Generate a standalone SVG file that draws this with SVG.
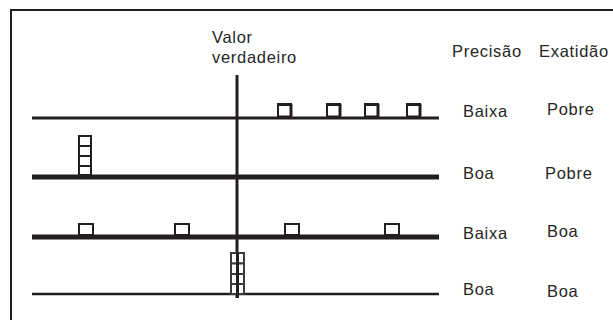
<svg xmlns="http://www.w3.org/2000/svg" width="613" height="320" viewBox="0 0 613 320">
<style>
.t{font-family:"Liberation Sans",Arial,sans-serif;font-size:16.5px;fill:#262626;letter-spacing:0.7px}
.ln{stroke:#231f20;fill:none}
.sq{fill:#fff;stroke:#231f20;stroke-width:2}
.sqt{fill:#fff;stroke:#231f20;stroke-width:2;stroke-dasharray:none}
.sqg{fill:#fff;stroke:#3a3a3a;stroke-width:2}
</style>
<defs>
<g id="box1">
<rect class="sq" x="0" y="0" width="13" height="12.5"/>
<line class="ln" x1="-1" y1="0.5" x2="14" y2="0.5" stroke-width="3"/>
<line class="ln" x1="13" y1="0" x2="13" y2="12.5" stroke-width="3"/>
</g>
</defs>
<rect width="613" height="320" fill="#fff"/>
<g id="frame">
<line class="ln" x1="10" y1="10" x2="613" y2="10" stroke-width="2"/>
<line class="ln" x1="11" y1="10" x2="11" y2="320" stroke-width="2"/>
</g>
<g id="axes">
<line class="ln" x1="32" y1="118" x2="439" y2="118" stroke-width="3"/>
<line class="ln" x1="32" y1="177" x2="439" y2="177" stroke-width="5"/>
<line class="ln" x1="32" y1="237" x2="439" y2="237" stroke-width="5"/>
<line class="ln" x1="32" y1="294" x2="439" y2="294" stroke-width="2.5"/>
<line class="ln" x1="237" y1="75" x2="237" y2="298" stroke-width="3"/>
</g>
<g id="row1">
<use href="#box1" x="278" y="104"/>
<use href="#box1" x="327" y="104"/>
<use href="#box1" x="365" y="104"/>
<use href="#box1" x="407" y="104"/>
</g>
<g id="row2">
<rect class="sq" x="79" y="136" width="12" height="10"/>
<rect class="sq" x="79" y="146" width="12" height="10"/>
<rect class="sq" x="79" y="156" width="12" height="10"/>
<rect class="sq" x="79" y="166" width="12" height="9"/>
</g>
<g id="row3">
<rect class="sq" x="79" y="224" width="14" height="11"/>
<rect class="sq" x="175" y="224" width="14" height="11"/>
<rect class="sq" x="285" y="224" width="14" height="11"/>
<rect class="sq" x="385" y="224" width="14" height="11"/>
</g>
<g id="row4">
<rect class="sqg" x="231" y="253" width="13" height="10.5"/>
<rect class="sqg" x="231" y="263.5" width="13" height="10.5"/>
<rect class="sqg" x="231" y="274" width="13" height="10"/>
<rect class="sqg" x="231" y="284" width="13" height="10"/>
<line class="ln" x1="237.5" y1="253" x2="237.5" y2="298" stroke-width="3"/>
</g>
<g id="labels">
<text class="t" x="212" y="43">Valor</text>
<text class="t" x="212" y="63">verdadeiro</text>
<text class="t" x="452" y="57">Precisão</text>
<text class="t" x="539" y="57">Exatidão</text>
<text class="t" x="463" y="117">Baixa</text>
<text class="t" x="547" y="115">Pobre</text>
<text class="t" x="463" y="179">Boa</text>
<text class="t" x="545" y="179">Pobre</text>
<text class="t" x="463" y="239">Baixa</text>
<text class="t" x="547" y="237">Boa</text>
<text class="t" x="463" y="295">Boa</text>
<text class="t" x="547" y="297">Boa</text>
</g>
</svg>
